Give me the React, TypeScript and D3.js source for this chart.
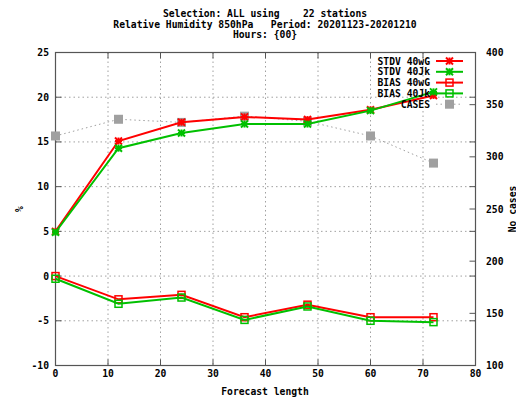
import React from "react";
import * as d3 from "d3";

const forecastHours = [0, 12, 24, 36, 48, 60, 72];
const stdv40wG = [5.0, 15.1, 17.2, 17.8, 17.5, 18.6, 20.2];
const stdv40Jk = [4.9, 14.3, 16.0, 17.0, 17.0, 18.5, 20.6];
const bias40wG = [0.0, -2.6, -2.1, -4.6, -3.2, -4.6, -4.6];
const bias40Jk = [-0.3, -3.1, -2.4, -4.9, -3.4, -5.0, -5.15];
const cases = [320, 336, 333, 339, 334, 320, 294];

const xTicks = [0, 10, 20, 30, 40, 50, 60, 70, 80];
const yTicks = [-10, -5, 0, 5, 10, 15, 20, 25];
const y2Ticks = [100, 150, 200, 250, 300, 350, 400];
const titleLines = [
  "Selection: ALL using    22 stations",
  "Relative Humidity 850hPa   Period: 20201123-20201210",
  "Hours: {00}",
];

const W = 516, H = 397;
const L = 55.5, R = 475.5, T = 52.5, B = 365.5;
const RED = "#ff0000", GREEN = "#00c000", GRAY = "#a0a0a0";
const FONT = "'DejaVu Sans Mono', monospace";

function Star({ x, y, color }: { x: number; y: number; color: string }) {
  const s = 3.5;
  return (
    <g stroke={color} strokeWidth={2}>
      <line x1={x - s} y1={y} x2={x + s} y2={y} />
      <line x1={x} y1={y - s} x2={x} y2={y + s} />
      <line x1={x - s} y1={y - s} x2={x + s} y2={y + s} />
      <line x1={x - s} y1={y + s} x2={x + s} y2={y - s} />
    </g>
  );
}
function OpenSq({ x, y, color }: { x: number; y: number; color: string }) {
  return <rect x={x - 3.5} y={y - 3.5} width={7} height={7} fill="none" stroke={color} strokeWidth={1.5} />;
}
function FilledSq({ x, y, color }: { x: number; y: number; color: string }) {
  return <rect x={x - 4.5} y={y - 4.5} width={9} height={9} fill={color} />;
}

export default function App() {
  const x = d3.scaleLinear().domain([0, 80]).range([L, R]);
  const y = d3.scaleLinear().domain([-10, 25]).range([B, T]);
  const y2 = d3.scaleLinear().domain([100, 400]).range([B, T]);

  const line = d3.line<[number, number]>().x((d) => d[0]).y((d) => d[1]);
  const pts = (vals: number[], sc: d3.ScaleLinear<number, number>) =>
    forecastHours.map((h, i) => [x(h), sc(vals[i])] as [number, number]);

  const series = [
    { name: "STDV 40wG", vals: stdv40wG, color: RED, mk: "star" },
    { name: "STDV 40Jk", vals: stdv40Jk, color: GREEN, mk: "star" },
    { name: "BIAS 40wG", vals: bias40wG, color: RED, mk: "sq" },
    { name: "BIAS 40Jk", vals: bias40Jk, color: GREEN, mk: "sq" },
  ];

  const legX = 430, legY0 = 61, legDY = 10.8;

  return (
    <svg width={W} height={H} style={{ position: "absolute", left: 0, top: 0 }} fontFamily={FONT} fontWeight="bold" fontSize={9.7}>
      <rect width={W} height={H} fill="#fff" />
      {titleLines.map((t, i) => (
        <text key={i} x={265} y={17 + i * 10.7} textAnchor="middle" fill="#000" style={{ whiteSpace: "pre" }}>{t}</text>
      ))}
      {/* grid */}
      <g stroke={GRAY} strokeWidth={1} strokeDasharray="1.5,3">
        {xTicks.filter((v) => v > 0 && v < 80).map((v) => (
          <line key={"gx" + v} x1={x(v)} x2={x(v)} y1={T} y2={B} />
        ))}
        {yTicks.filter((v) => v > -10 && v < 25).map((v) => (
          <line key={"gy" + v} x1={L} x2={R} y1={y(v)} y2={y(v)} />
        ))}
      </g>
      {/* ticks */}
      <g stroke="#555" strokeWidth={1}>
        {xTicks.map((v) => (
          <g key={"tx" + v}>
            <line x1={x(v)} x2={x(v)} y1={B} y2={B - 6} />
            <line x1={x(v)} x2={x(v)} y1={T} y2={T + 6} />
          </g>
        ))}
        {yTicks.map((v) => (
          <g key={"ty" + v}>
            <line x1={L} x2={L + 6} y1={y(v)} y2={y(v)} />
            <line x1={R} x2={R - 6} y1={y(v)} y2={y(v)} />
          </g>
        ))}
        {y2Ticks.map((v) => (
          <line key={"ty2" + v} x1={R} x2={R - 6} y1={y2(v)} y2={y2(v)} />
        ))}
      </g>
      <rect x={L} y={T} width={R - L} height={B - T} fill="none" stroke="#555" strokeWidth={1.2} />
      {/* tick labels */}
      {xTicks.map((v) => (
        <text key={"lx" + v} x={x(v)} y={377} textAnchor="middle">{v}</text>
      ))}
      {yTicks.map((v) => (
        <text key={"ly" + v} x={49} y={y(v) + 3.5} textAnchor="end">{v}</text>
      ))}
      {y2Ticks.map((v) => (
        <text key={"ly2" + v} x={486} y={y2(v) + 3.5} textAnchor="start">{v}</text>
      ))}
      <text x={265} y={395} textAnchor="middle">Forecast length</text>
      <text transform={`translate(23,${(T + B) / 2}) rotate(-90)`} textAnchor="middle">%</text>
      <text transform={`translate(515.5,${(T + B) / 2}) rotate(-90)`} textAnchor="middle">No cases</text>

      {/* cases */}
      <path d={line(pts(cases, y2)) || ""} fill="none" stroke={GRAY} strokeWidth={1} strokeDasharray="1.5,3" />
      {pts(cases, y2).map((p, i) => <FilledSq key={"c" + i} x={p[0]} y={p[1]} color={GRAY} />)}

      {/* series */}
      {series.map((s) => {
        const p = pts(s.vals, y);
        return (
          <g key={s.name}>
            <path d={line(p) || ""} fill="none" stroke={s.color} strokeWidth={2} />
            {p.map((q, i) =>
              s.mk === "star" ? <Star key={i} x={q[0]} y={q[1]} color={s.color} /> : <OpenSq key={i} x={q[0]} y={q[1]} color={s.color} />
            )}
          </g>
        );
      })}

      {/* legend */}
      {series.map((s, i) => {
        const ly = legY0 + i * legDY;
        return (
          <g key={"leg" + s.name}>
            <text x={legX} y={ly + 3.5} textAnchor="end">{s.name}</text>
            <line x1={436} x2={463} y1={ly} y2={ly} stroke={s.color} strokeWidth={2} />
            {s.mk === "star" ? <Star x={449.5} y={ly} color={s.color} /> : <OpenSq x={449.5} y={ly} color={s.color} />}
          </g>
        );
      })}
      <g>
        <text x={legX} y={legY0 + 4 * legDY + 3.5} textAnchor="end">CASES</text>
        <line x1={436} x2={463} y1={legY0 + 4 * legDY} y2={legY0 + 4 * legDY} stroke={GRAY} strokeWidth={1} strokeDasharray="1.5,3" />
        <FilledSq x={449.5} y={legY0 + 4 * legDY} color={GRAY} />
      </g>
    </svg>
  );
}
